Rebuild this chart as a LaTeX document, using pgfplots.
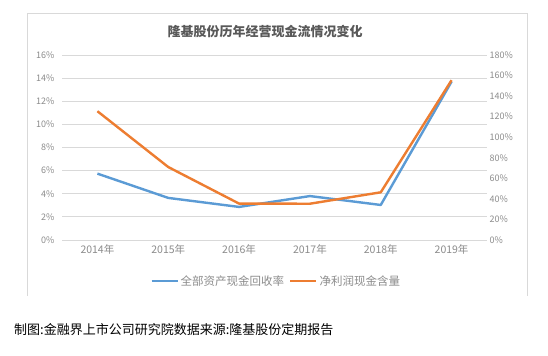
\documentclass[border=0pt]{standalone}
\usepackage{pgfplots}
\pgfplotsset{compat=1.18}
\usepackage{fontspec}
\setmainfont{Noto Sans CJK SC}
\definecolor{cblue}{HTML}{5B9BD5}
\definecolor{corange}{HTML}{ED7D31}
\definecolor{gridc}{HTML}{D9D9D9}
\definecolor{tickc}{HTML}{8C8C8C}
\definecolor{titlec}{HTML}{595959}
\begin{document}
\begin{tikzpicture}
\path[use as bounding box] (0,0) rectangle (548bp,356bp);
\fill[white] (0,0) rectangle (548bp,356bp);
\draw[gridc, line width=0.8bp] (27bp,60bp) -- (27bp,343bp) -- (527bp,343bp) -- (527bp,60bp);
\node[font=\fontsize{13bp}{15bp}\selectfont\bfseries, text=titlec] at (265bp,324bp) {隆基股份历年经营现金流情况变化};
\node[font=\fontsize{13bp}{15bp}\selectfont, anchor=west, text=black, inner sep=0pt] at (14bp,26bp) {制图:金融界上市公司研究院数据来源:隆基股份定期报告};
\begin{axis}[
  at={(62bp,116bp)}, anchor=south west,
  width=425bp, height=185bp, scale only axis,
  xmin=-0.5, xmax=5.5, ymin=0, ymax=16,
  axis line style={draw=none}, tick style={draw=none},
  ymajorgrids, grid style={gridc, line width=0.8bp},
  ytick={0,2,...,16},
  yticklabel={\pgfmathprintnumber{\tick}\%},
  /pgf/number format/assume math mode=true,
  xtick={0,...,5},
  xticklabels={2014年,2015年,2016年,2017年,2018年,2019年},
  yticklabel style={font=\fontsize{9bp}{10bp}\selectfont, text=tickc, xshift=-4bp},
  xticklabel style={font=\fontsize{10.5bp}{12bp}\selectfont, text=tickc, yshift=-1bp},
  clip=false,
]
\addplot[cblue, line width=2.4bp, line join=round] coordinates {
 (0,5.74) (1,3.64) (2,2.86) (3,3.80) (4,3.03) (5,13.7)};
\end{axis}
\begin{axis}[
  at={(62bp,116bp)}, anchor=south west,
  width=425bp, height=185bp, scale only axis,
  xmin=-0.5, xmax=5.5, ymin=0, ymax=180,
  axis y line*=right, hide x axis,
  axis line style={draw=none}, tick style={draw=none},
  ytick={0,20,...,180},
  yticklabel={\pgfmathprintnumber{\tick}\%},
  /pgf/number format/assume math mode=true,
  yticklabel style={font=\fontsize{9bp}{10bp}\selectfont, text=tickc, anchor=west, xshift=-1bp},
  clip=false,
  legend style={at={(0.504,-0.222)}, anchor=center, draw=none, fill=none,
    legend columns=2, font=\fontsize{11.5bp}{13bp}\selectfont, text=tickc,
    /tikz/every even column/.append style={column sep=3bp}},
  legend image code/.code={\draw[#1] (0bp,0bp) -- (26bp,0bp);},
]
\addlegendimage{cblue, line width=2.4bp}
\addlegendentry{全部资产现金回收率}
\addplot[corange, line width=2.4bp, line join=round] coordinates {
 (0,125.3) (1,71.0) (2,35.4) (3,35.3) (4,46.4) (5,155.5)};
\addlegendentry{净利润现金含量}
\end{axis}
\end{tikzpicture}
\end{document}
